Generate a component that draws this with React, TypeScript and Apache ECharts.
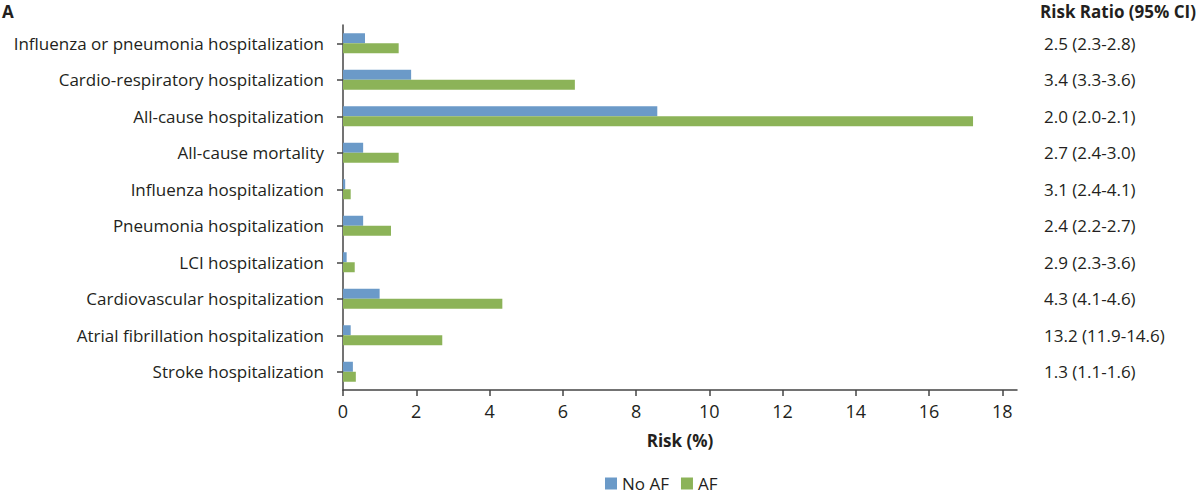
import React, { useEffect, useRef } from "react";
import * as echarts from "echarts";

const categories = [
  "Influenza or pneumonia hospitalization",
  "Cardio-respiratory hospitalization",
  "All-cause hospitalization",
  "All-cause mortality",
  "Influenza hospitalization",
  "Pneumonia hospitalization",
  "LCI hospitalization",
  "Cardiovascular hospitalization",
  "Atrial fibrillation hospitalization",
  "Stroke hospitalization",
];
const noAF = [0.6, 1.86, 8.58, 0.55, 0.06, 0.55, 0.1, 1.0, 0.21, 0.27];
const af = [1.52, 6.33, 17.2, 1.52, 0.21, 1.31, 0.32, 4.35, 2.71, 0.35];
const riskRatios = [
  "2.5 (2.3-2.8)",
  "3.4 (3.3-3.6)",
  "2.0 (2.0-2.1)",
  "2.7 (2.4-3.0)",
  "3.1 (2.4-4.1)",
  "2.4 (2.2-2.7)",
  "2.9 (2.3-3.6)",
  "4.3 (4.1-4.6)",
  "13.2 (11.9-14.6)",
  "1.3 (1.1-1.6)",
];
const xTicks = [0, 2, 4, 6, 8, 10, 12, 14, 16, 18];

const FONT = "'Open Sans', 'Noto Sans', sans-serif";
const TEXT = "#231f20";
const FS = 17;

export default function App() {
  const ref = useRef<HTMLDivElement>(null);
  useEffect(() => {
    if (!ref.current) return;
    const chart = echarts.init(ref.current, undefined, { renderer: "svg" });
    chart.setOption({
      animation: false,
      textStyle: { fontFamily: FONT, color: TEXT },
      grid: { left: 343, right: 183, top: 25, bottom: 105 },
      legend: {
        data: ["No AF", "AF"],
        bottom: 0,
        left: 600,
        padding: [5, 5, 3, 5],
        itemWidth: 12,
        itemHeight: 12,
        itemGap: 12,
        icon: "rect",
        textStyle: { fontSize: FS, color: TEXT, fontFamily: FONT },
      },
      xAxis: {
        type: "value",
        min: 0,
        max: 18.4,
        name: "Risk (%)",
        nameLocation: "middle",
        nameGap: 42,
        nameTextStyle: { fontSize: FS, fontWeight: "bold", color: TEXT, fontFamily: FONT },
        splitLine: { show: false },
        axisLine: { show: true, lineStyle: { color: "#444", width: 1.5 } },
        axisTick: {
          show: true,
          length: 6,
          customValues: xTicks,
          lineStyle: { color: "#444", width: 1.5 },
        },
        axisLabel: {
          fontSize: 18,
          color: TEXT,
          margin: 12,
          fontFamily: FONT,
          customValues: xTicks,
        },
      },
      yAxis: [
        {
          type: "category",
          data: categories,
          inverse: true,
          axisLine: { show: true, lineStyle: { color: "#444", width: 1.5 } },
          axisTick: { show: true, alignWithLabel: true, length: 6, lineStyle: { color: "#444", width: 1.5 } },
          axisLabel: { fontSize: FS, color: TEXT, margin: 19, fontFamily: FONT },
        },
        {
          type: "category",
          data: riskRatios,
          inverse: true,
          position: "right",
          axisLine: { show: false },
          axisTick: { show: false },
          axisLabel: { fontSize: FS, color: TEXT, margin: 27, align: "left", fontFamily: FONT },
        },
      ],
      series: [
        {
          name: "No AF",
          type: "bar",
          data: noAF,
          yAxisIndex: 0,
          barWidth: 10,
          barGap: "0%",
          itemStyle: { color: "#6b9ac8" },
        },
        {
          name: "AF",
          type: "bar",
          data: af,
          yAxisIndex: 0,
          barWidth: 10,
          barGap: "0%",
          itemStyle: { color: "#8cb358" },
        },
      ],
      graphic: [
        {
          type: "text",
          left: 2,
          top: 3,
          style: { text: "A", fontSize: 17, fontWeight: "bold", fill: TEXT, fontFamily: FONT },
        },
        {
          type: "text",
          right: 4,
          top: 3,
          style: { text: "Risk Ratio (95% CI)", fontSize: FS, fontWeight: "bold", fill: TEXT, fontFamily: FONT },
        },
      ],
    });
    return () => chart.dispose();
  }, []);
  return (
    <div
      ref={ref}
      style={{ position: "fixed", left: 0, top: 0, width: 1200, height: 495, background: "#fff" }}
    />
  );
}
